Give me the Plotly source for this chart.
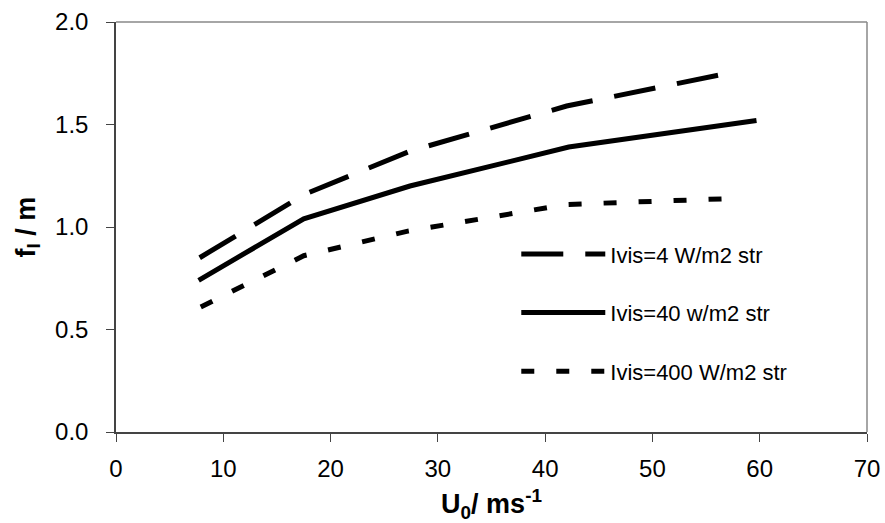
import plotly.graph_objects as go

# Data
u0_4 = [7.8, 17.6, 27.4, 42.0, 58.0]
fl_4 = [0.85, 1.16, 1.37, 1.59, 1.76]

u0_40 = [7.7, 17.5, 27.4, 42.2, 59.7]
fl_40 = [0.74, 1.04, 1.20, 1.39, 1.52]

u0_400 = [7.9, 17.5, 27.2, 42.0, 58.0]
fl_400 = [0.61, 0.86, 0.98, 1.11, 1.14]

names = ["Ivis=4 W/m2 str", "Ivis=40 w/m2 str", "Ivis=400 W/m2 str"]
xticks = [0, 10, 20, 30, 40, 50, 60, 70]
yticks = [0.0, 0.5, 1.0, 1.5, 2.0]

FONT = "Liberation Sans, Arial, sans-serif"

fig = go.Figure()
fig.add_trace(go.Scatter(x=u0_4, y=fl_4, mode="lines", name=names[0], legendgroup="a",
                         line=dict(color="black", width=5, dash="42px,22px")))
fig.add_trace(go.Scatter(x=u0_40, y=fl_40, mode="lines", name=names[1], legendgroup="b",
                         line=dict(color="black", width=5)))
fig.add_trace(go.Scatter(x=u0_400, y=fl_400, mode="lines", name=names[2], legendgroup="c",
                         line=dict(color="black", width=5, dash="13px,22px")))

fig.update_layout(
    width=885, height=523,
    margin=dict(l=116, r=18, t=22, b=91),
    paper_bgcolor="white", plot_bgcolor="white",
    font=dict(family=FONT, color="black", size=24),
    showlegend=True,
    legend=dict(x=0.533, y=0.485, xanchor="left", yanchor="top",
                bgcolor="rgba(0,0,0,0)", font=dict(size=22, family=FONT),
                itemwidth=84, traceorder="grouped", tracegroupgap=27),
    xaxis=dict(range=[0, 70], tickvals=xticks, ticks="outside", ticklen=8,
               tickcolor="#444", showline=True, linecolor="#444", linewidth=1.5,
               showgrid=False, zeroline=False, tickfont=dict(size=24),
               ticklabelstandoff=6, automargin=False,
               title=dict(text="<b>U<sub>0</sub>/ ms<sup>-1</sup></b>",
                          font=dict(size=27), standoff=14)),
    yaxis=dict(range=[0, 2.0], tickvals=yticks, tickformat=".1f", ticks="outside",
               ticklen=8, tickcolor="#444", showline=True, linecolor="#444", linewidth=1.5,
               showgrid=False, zeroline=False, tickfont=dict(size=24),
               ticklabelstandoff=13, automargin=False,
               title=dict(text="<b>f<sub>l</sub> / m</b>", font=dict(size=27), standoff=12)),
)

# plot-area frame (top and right)
fig.add_shape(type="line", xref="paper", yref="paper", x0=0, x1=1, y0=1, y1=1,
              line=dict(color="#888", width=1.5))
fig.add_shape(type="line", xref="paper", yref="paper", x0=1, x1=1, y0=0, y1=1,
              line=dict(color="#888", width=1.5))

fig.write_html("out.html")
